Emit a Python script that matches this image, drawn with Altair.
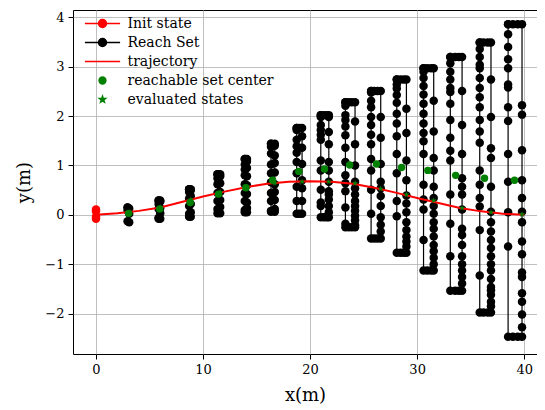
import math
import altair as alt
import pandas as pd

# ---------------- data ----------------
TRAJ_X = [0, 2, 4, 6, 8, 10, 12, 14, 16, 18, 20, 22, 24, 26, 28, 30, 32, 34, 36, 38, 40]
TRAJ_Y = [0.0, 0.03, 0.08, 0.15, 0.26, 0.37, 0.47, 0.56, 0.63, 0.67, 0.68, 0.67,
          0.63, 0.55, 0.45, 0.34, 0.24, 0.14, 0.07, 0.02, 0.0]

INIT_X = [0.0, 0.0, 0.0, 0.0]
INIT_Y = [0.11, 0.07, -0.04, -0.08]

SET_XL = [2.95, 5.85, 8.7, 11.35, 13.9, 16.35, 18.75, 21.0, 23.3, 25.7, 28.1, 30.6, 33.1, 35.85, 38.5]
SET_XR = [3.1, 6.0, 8.85, 11.6, 14.1, 16.7, 19.25, 21.75, 24.2, 26.6, 29.0, 31.55, 34.2, 36.9, 39.8]

SET_LEFT_Y = [
    [0.15, 0.08, -0.13],
    [0.29, 0.22, 0.12, -0.06, -0.08],
    [0.52, 0.46, 0.33, 0.18, 0.02, -0.04],
    [0.82, 0.74, 0.62, 0.44, 0.28, 0.12, 0.03],
    [1.13, 1.02, 0.92, 0.80, 0.62, 0.44, 0.28, 0.10, 0.05],
    [1.44, 1.38, 1.24, 1.02, 0.84, 0.66, 0.44, 0.28, 0.08, 0.06],
    [1.76, 1.72, 1.52, 1.39, 1.26, 1.07, 0.84, 0.57, 0.28, 0.02],
    [2.02, 1.98, 1.82, 1.72, 1.62, 1.52, 1.10, 0.90, 0.51, 0.25, 0.18, -0.05],
    [2.28, 2.21, 2.02, 1.92, 1.79, 1.61, 1.36, 1.07, 0.80, 0.64, 0.48, 0.15, -0.18, -0.25],
    [2.51, 2.48, 2.31, 2.18, 1.98, 1.82, 1.62, 1.43, 1.13, 0.90, 0.51, 0.02, -0.48],
    [2.74, 2.64, 2.56, 2.43, 2.27, 2.05, 1.85, 1.59, 1.23, 0.84, 0.28, -0.03, -0.77],
    [2.97, 2.90, 2.77, 2.61, 2.44, 2.25, 2.05, 1.85, 1.66, 1.49, 1.23, 0.61, 0.31, 0.11, -0.51, -1.13],
    [3.20, 3.07, 2.90, 2.74, 2.57, 2.49, 2.25, 1.92, 1.56, 1.30, 1.10, 0.41, -0.18, -0.84, -1.54],
    [3.49, 3.36, 3.20, 3.04, 2.97, 2.77, 2.57, 2.38, 2.18, 1.92, 1.69, 1.46, 0.90, 0.61, 0.34,
     0.17, -0.31, -1.23, -1.98],
    [3.86, 3.66, 3.40, 3.15, 2.97, 2.64, 2.58, 2.18, 1.90, 1.23, 0.67, 0.05, -0.64, -2.47],
]
SET_RIGHT_Y = [
    [-0.15, 0.02, 0.13],
    [-0.08, 0.03, 0.14, 0.27, 0.29],
    [-0.04, 0.05, 0.22, 0.38, 0.50, 0.52],
    [0.03, 0.16, 0.30, 0.46, 0.64, 0.78, 0.82],
    [0.05, 0.14, 0.25, 0.42, 0.60, 0.78, 0.95, 1.08, 1.13],
    [0.06, 0.12, 0.30, 0.46, 0.62, 0.86, 1.05, 1.20, 1.40, 1.44],
    [0.02, 0.28, 0.54, 0.70, 1.03, 1.36, 1.59, 1.76],
    [-0.05, 0.05, 0.18, 0.31, 0.41, 0.48, 0.67, 0.90, 1.07, 1.43, 1.68, 1.98, 2.02],
    [-0.25, -0.21, -0.11, -0.02, 0.08, 0.18, 0.28, 0.41, 0.54, 0.67, 1.00, 1.43, 1.89, 2.28],
    [-0.48, -0.34, -0.20, -0.05, 0.18, 0.38, 0.54, 0.67, 1.03, 1.56, 1.98, 2.51],
    [-0.77, -0.64, -0.54, -0.44, -0.31, -0.15, 0.05, 0.23, 0.39, 0.70, 1.10, 1.66, 2.15, 2.74],
    [-1.13, -1.00, -0.87, -0.74, -0.61, -0.44, -0.28, -0.15, 0.02, 0.18, 0.34, 0.57, 0.90,
     1.15, 1.69, 2.31, 2.97],
    [-1.54, -1.39, -1.26, -1.13, -1.00, -0.84, -0.61, -0.41, -0.28, 0.11, 0.41, 0.57, 0.74,
     1.23, 1.82, 2.51, 3.20],
    [-1.98, -1.85, -1.76, -1.62, -1.53, -1.46, -1.30, -1.13, -1.00, -0.84, -0.67, -0.51, -0.34,
     -0.15, 0.06, 0.57, 1.15, 1.35, 1.98, 2.74, 3.49],
    [-2.47, -2.28, -2.02, -1.76, -1.59, -1.26, -1.17, -0.80, -0.54, -0.15, 0.06, 0.34, 0.70,
     1.31, 2.03, 2.22, 3.86],
]
SET_TOP_MID_X = [[], [], [], [], [], [], [19.0], [21.3, 21.55], [23.6, 23.9], [26.0, 26.3],
                 [28.45, 28.75], [30.95, 31.3], [33.55, 33.9], [36.2, 36.6], [38.95, 39.4]]
SET_BOTTOM_MID_X = [[], [], [], [], [], [], [19.0], [21.3, 21.55], [23.6, 23.9], [26.0, 26.3],
                    [28.45, 28.75], [30.95, 31.3], [33.55, 33.9], [36.2, 36.6], [38.95, 39.4]]

CENTER_X = [3.05, 5.95, 8.8, 11.45, 14.0, 16.5, 18.95, 21.35, 23.7, 26.2, 28.55, 31.0, 33.6, 36.3, 39.1]
CENTER_Y = [0.03, 0.12, 0.25, 0.42, 0.55, 0.70, 0.88, 0.93, 1.01, 1.03, 0.96, 0.90, 0.80, 0.74, 0.70]

STAR_X = [3.1, 6.0, 8.85, 11.6, 14.1, 16.7, 19.25, 21.75, 24.2, 26.6, 29.0, 31.55, 34.2, 36.9, 39.8]
STAR_Y = [0.05, 0.15, 0.31, 0.46, 0.56, 0.64, 0.67, 0.67, 0.64, 0.53, 0.41, 0.29, 0.14, 0.05, 0.01]

LEGEND_LABELS = ["Init state", "Reach Set", "trajectory", "reachable set center", "evaluated states"]
LEGEND_COLORS = ["#ff0000", "#000000", "#ff0000", "#008000", "#008000"]

X_TICKS = [0, 10, 20, 30, 40]
Y_TICKS = [-2, -1, 0, 1, 2, 3, 4]

# ---------------- build tables ----------------
rows = []
for k in range(len(SET_XL)):
    left = SET_LEFT_Y[k]
    right = SET_RIGHT_Y[k]
    top, bot = left[0], left[-1]
    pts = [(SET_XL[k], v) for v in left]
    pts += [(xm, bot) for xm in SET_BOTTOM_MID_X[k]]
    pts += [(SET_XR[k], v) for v in right]
    pts += [(xm, top) for xm in reversed(SET_TOP_MID_X[k])]
    pts.append(pts[0])
    for i, (xv, yv) in enumerate(pts):
        rows.append({"set": k, "ord": i, "x": xv, "y": yv})
reach_df = pd.DataFrame(rows)

traj_df = pd.DataFrame({"x": TRAJ_X, "y": TRAJ_Y, "ord": list(range(len(TRAJ_X)))})
init_df = pd.DataFrame({"x": INIT_X, "y": INIT_Y, "ord": list(range(len(INIT_X)))})
center_df = pd.DataFrame({"x": CENTER_X, "y": CENTER_Y})
star_df = pd.DataFrame({"x": STAR_X, "y": STAR_Y})
legend_df = pd.DataFrame({"series": LEGEND_LABELS})


def star_path(r_out, r_in):
    pts = []
    for i in range(10):
        r = r_out if i % 2 == 0 else r_in
        a = -math.pi / 2 + i * math.pi / 5
        pts.append(f"{r * math.cos(a):.3f},{r * math.sin(a):.3f}")
    return "M" + "L".join(pts) + "Z"


def circle_path(r, line=None):
    p = f"M{-r},0A{r},{r} 0 1,0 {r},0A{r},{r} 0 1,0 {-r},0Z"
    if line:
        p = f"M{-line},0L{line},0" + p
    return p


LEGEND_SHAPES = [
    circle_path(1.0, 4.4),
    circle_path(1.0, 4.4),
    "M-4.4,0L4.4,0",
    circle_path(0.85),
    star_path(0.8, 0.33),
]

FONT = "DejaVu Serif"

X = alt.X("x:Q", scale=alt.Scale(domain=[-2.15, 41.2], nice=False, zero=False),
          axis=alt.Axis(values=X_TICKS, title="x(m)", format="d", titlePadding=10))
Y = alt.Y("y:Q", scale=alt.Scale(domain=[-2.82, 4.15], nice=False, zero=False),
          axis=alt.Axis(values=Y_TICKS, title="y(m)", format="d", titlePadding=11))

reach_lines = alt.Chart(reach_df).mark_line(color="black", strokeWidth=1.2).encode(
    x=X, y=Y, detail="set:N", order="ord:Q")
reach_pts = alt.Chart(reach_df).mark_circle(color="black", size=72, opacity=1).encode(x=X, y=Y)

traj = alt.Chart(traj_df).mark_line(color="#ff0000", strokeWidth=2).encode(x=X, y=Y, order="ord:Q")

centers = alt.Chart(center_df).mark_circle(color="#008000", size=55, opacity=1).encode(x=X, y=Y)
stars = alt.Chart(star_df).mark_point(shape=star_path(1.0, 0.4), filled=True, color="#008000",
                                      size=40, opacity=1).encode(x=X, y=Y)

init_line = alt.Chart(init_df).mark_line(color="#ff0000", strokeWidth=1.5).encode(x=X, y=Y, order="ord:Q")
init_pts = alt.Chart(init_df).mark_circle(color="#ff0000", size=72, opacity=1).encode(x=X, y=Y)

leg = alt.Legend(orient="none", legendX=10.5, legendY=6.5, title=None, labelFont=FONT,
                 labelFontSize=14, labelColor="black", symbolSize=64, symbolStrokeWidth=1.5,
                 symbolOffset=12, labelOffset=18, rowPadding=5, padding=0,
                 symbolFillColor="black", symbolOpacity=1, labelLimit=300)

legend_layer = alt.Chart(legend_df).mark_point(filled=True, opacity=0).encode(
    fill=alt.Fill("series:N", scale=alt.Scale(domain=LEGEND_LABELS, range=LEGEND_COLORS), legend=leg),
    stroke=alt.Stroke("series:N", scale=alt.Scale(domain=LEGEND_LABELS, range=LEGEND_COLORS), legend=leg),
    shape=alt.Shape("series:N", scale=alt.Scale(domain=LEGEND_LABELS, range=LEGEND_SHAPES), legend=leg),
)

chart = alt.layer(
    reach_lines, reach_pts, traj, centers, stars, init_line, init_pts, legend_layer
).properties(
    width=464, height=344,
    autosize=alt.AutoSizeParams(type="none"),
    padding={"left": 65, "top": 2, "right": 0, "bottom": 54},
).configure_view(
    stroke="black", strokeWidth=1
).configure_axis(
    grid=True, gridColor="#b0b0b0", gridWidth=0.8, domain=False,
    tickColor="black", tickSize=5, tickWidth=1,
    labelFont=FONT, labelFontSize=13, labelColor="black", labelPadding=4,
    titleFont=FONT, titleFontSize=18, titleFontWeight="normal", titleColor="black",
)

chart.save("out.html", embed_options={"renderer": "svg", "actions": False})
